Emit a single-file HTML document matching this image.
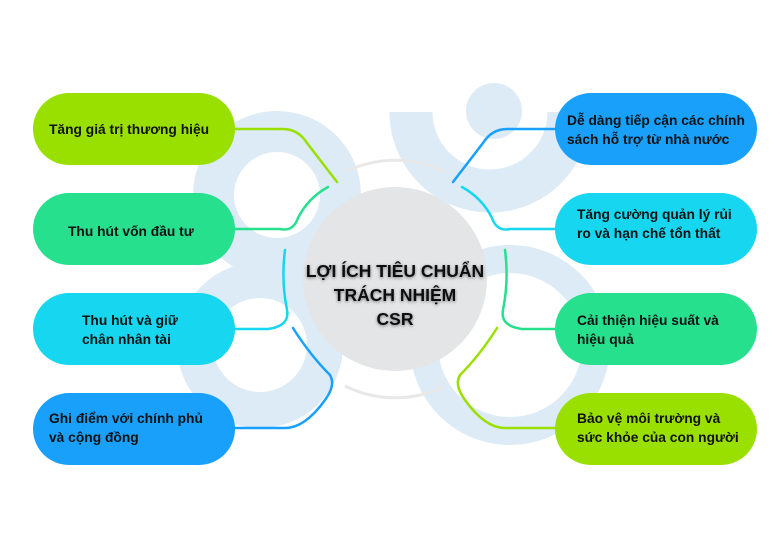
<!DOCTYPE html>
<html><head><meta charset="utf-8"><style>
html,body{margin:0;padding:0;background:#fff;}
svg{display:block;}
text{font-family:"Liberation Sans",sans-serif;font-weight:bold;font-size:13.8px;fill:#111;}
</style></head><body>
<svg width="780" height="540" viewBox="0 0 780 540" xmlns="http://www.w3.org/2000/svg">
<defs><filter id="sh" x="-10%" y="-30%" width="120%" height="160%"><feGaussianBlur in="SourceAlpha" stdDeviation="1.5"/><feOffset dx="0" dy="1"/><feComponentTransfer><feFuncA type="linear" slope="0.5"/></feComponentTransfer><feMerge><feMergeNode/><feMergeNode in="SourceGraphic"/></feMerge></filter></defs>
<g fill="none" stroke="#dcebf6">
  <circle cx="277" cy="195" r="63.5" stroke-width="41"/>
  <circle cx="260" cy="345" r="65" stroke-width="36"/>
  <path d="M411,112 A79,79 0 0 0 569,112" stroke-width="43"/>
  <circle cx="510" cy="345" r="86" stroke-width="28"/>
</g>
<circle cx="494" cy="111" r="28" fill="#dcebf6"/>
<path d="M345,172 A112,112 0 0 1 445,172" fill="none" stroke="#e8e8e8" stroke-width="3"/>
<path d="M345,386 A112,112 0 0 0 445,386" fill="none" stroke="#e8e8e8" stroke-width="3"/>
<circle cx="395" cy="279" r="92" fill="#e4e5e7"/>
<g fill="none" stroke-width="2.5" stroke-linecap="round">
  <path d="M235,129 H283 Q298,129 307,143 L337,182" stroke="#99e000"/>
  <path d="M235,229 H280 Q293,232 298,218 Q308,198 328,187" stroke="#26e08e"/>
  <path d="M285,250 Q281,280 287,310 Q290,326 268,329 H235" stroke="#16d6f0"/>
  <path d="M293,328 Q310,355 330,375 Q336,385 325,400 Q305,428 285,428 H235" stroke="#18a0fb"/>
  <path d="M555,129 H507 Q492,129 483,143 L453,182" stroke="#18a0fb"/>
  <path d="M555,229 H510 Q497,232 492,218 Q482,198 462,187" stroke="#16d6f0"/>
  <path d="M505,250 Q509,280 503,310 Q500,326 522,329 H555" stroke="#26e08e"/>
  <path d="M497,328 Q480,355 460,375 Q454,385 465,400 Q485,428 505,428 H555" stroke="#99e000"/>
</g>
<rect x="33" y="93" width="202" height="72" rx="36" fill="#99e000"/>
<rect x="33" y="193" width="202" height="72" rx="36" fill="#26e08e"/>
<rect x="33" y="293" width="202" height="72" rx="36" fill="#16d6f0"/>
<rect x="33" y="393" width="202" height="72" rx="36" fill="#18a0fb"/>
<rect x="555" y="93" width="202" height="72" rx="36" fill="#18a0fb"/>
<rect x="555" y="193" width="202" height="72" rx="36" fill="#16d6f0"/>
<rect x="555" y="293" width="202" height="72" rx="36" fill="#26e08e"/>
<rect x="555" y="393" width="202" height="72" rx="36" fill="#99e000"/>
<text x="49" y="134">Tăng giá trị thương hiệu</text>
<text x="68" y="236">Thu hút vốn đầu tư</text>
<text x="82" y="325">Thu hút và giữ</text>
<text x="82" y="344">chân nhân tài</text>
<text x="49" y="423">Ghi điểm với chính phủ</text>
<text x="49" y="442">và cộng đồng</text>
<text x="567" y="125">Dễ dàng tiếp cận các chính</text>
<text x="567" y="144">sách hỗ trợ từ nhà nước</text>
<text x="577" y="219">Tăng cường quản lý rủi</text>
<text x="577" y="238">ro và hạn chế tổn thất</text>
<text x="577" y="325">Cải thiện hiệu suất và</text>
<text x="577" y="344">hiệu quả</text>
<text x="577" y="423">Bảo vệ môi trường và</text>
<text x="577" y="442">sức khỏe của con người</text>
<g text-anchor="middle" filter="url(#sh)">
<text x="395" y="277" style="font-size:17.5px">LỢI ÍCH TIÊU CHUẨN</text>
<text x="395" y="301" style="font-size:17.5px">TRÁCH NHIỆM</text>
<text x="395" y="325" style="font-size:17.5px">CSR</text>
</g>
</svg>
</body></html>
